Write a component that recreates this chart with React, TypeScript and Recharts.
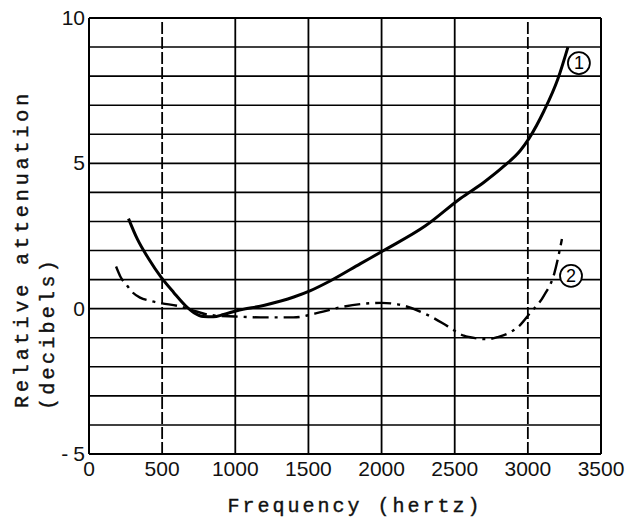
import React from 'react';
import { LineChart, Line, XAxis, YAxis, ReferenceLine, ReferenceDot } from 'recharts';

// Axis ticks and grid positions
const freqTicks = [0, 500, 1000, 1500, 2000, 2500, 3000, 3500];
const dbTicks = [-5, 0, 5, 10];
const dbGrid = [-4, -3, -2, -1, 0, 1, 2, 3, 4, 5, 6, 7, 8, 9, 10];
const freqGridSolid = [1000, 1500, 2000, 2500, 3500];
const freqGridBroken = [500, 3000];

// Curve 1 (solid)
const curve1Hz = [270, 330, 410, 490, 580, 660, 720, 780, 850, 920, 1010, 1200, 1400, 1514, 1651, 1856, 2014, 2300, 2541, 2700, 2836, 2950, 3007, 3110, 3205, 3274];
const curve1Db = [3.1, 2.4, 1.7, 1.1, 0.55, 0.1, -0.15, -0.27, -0.28, -0.2, -0.07, 0.12, 0.4, 0.62, 0.96, 1.55, 2.0, 2.85, 3.8, 4.35, 4.9, 5.45, 5.85, 6.8, 7.9, 9.0];

// Curve 2 (dash-dot)
const curve2Hz = [185, 215, 260, 294, 349, 418, 500, 603, 692, 829, 1000, 1171, 1397, 1600, 1740, 1877, 2000, 2110, 2336, 2450, 2562, 2650, 2726, 2800, 2884, 2950, 3007, 3110, 3180, 3233];
const curve2Db = [1.45, 1.1, 0.8, 0.58, 0.38, 0.27, 0.18, 0.1, -0.03, -0.22, -0.27, -0.3, -0.3, -0.1, 0.07, 0.17, 0.2, 0.15, -0.27, -0.6, -0.93, -1.02, -1.05, -0.97, -0.8, -0.55, -0.2, 0.45, 1.2, 2.4];

// Curve markers
const markerHz = [3349, 3295];
const markerDb = [8.45, 1.13];
const markerText = ['1', '2'];

const curve1 = curve1Hz.map((f, i) => ({ f, db: curve1Db[i] }));
const curve2 = curve2Hz.map((f, i) => ({ f, db: curve2Db[i] }));

const tickFont = '"Liberation Sans", Arial, sans-serif';
const labelFont = '"Liberation Mono", "DejaVu Sans Mono", monospace';

const XTick = (props: any) => {
  const { x, y, payload } = props;
  return (
    <text x={x} y={y + 22} textAnchor="middle" fontFamily={tickFont} fontSize={21} fill="#111">
      {payload.value}
    </text>
  );
};

const YTick = (props: any) => {
  const { x, y, payload } = props;
  const v = payload.value;
  if (v < 0) {
    return (
      <text x={x - 4} y={y + 7} textAnchor="end" fontFamily={tickFont} fontSize={21} fill="#111">
        <tspan>-</tspan>
        <tspan dx={5}>{Math.abs(v)}</tspan>
      </text>
    );
  }
  return (
    <text x={x - 4} y={y + 7} textAnchor="end" fontFamily={tickFont} fontSize={21} fill="#111">
      {v}
    </text>
  );
};

const titleStyle = {
  fontFamily: labelFont,
  fontSize: 20,
  fill: '#111',
  stroke: '#111',
  strokeWidth: 0.4,
};

export default function App() {
  return (
    <div style={{ position: 'absolute', left: 0, top: 0, width: 631, height: 523, background: '#fff' }}>
      <LineChart width={631} height={523} margin={{ top: 18, right: 30, bottom: 39, left: 39 }}>
        <XAxis
          dataKey="f"
          type="number"
          domain={[0, 3500]}
          ticks={freqTicks}
          allowDataOverflow
          height={30}
          tickLine={false}
          tickSize={0}
          tickMargin={0}
          axisLine={{ stroke: '#000', strokeWidth: 2 }}
          tick={<XTick />}
        />
        <YAxis
          dataKey="db"
          type="number"
          domain={[-5, 10]}
          ticks={dbTicks}
          allowDataOverflow
          width={50}
          tickLine={false}
          tickSize={0}
          tickMargin={0}
          axisLine={{ stroke: '#000', strokeWidth: 2 }}
          tick={<YTick />}
        />
        {dbGrid.map((v) => (
          <ReferenceLine key={'h' + v} y={v} stroke="#000" strokeWidth={v === 10 ? 2 : 1.6} />
        ))}
        {freqGridSolid.map((v) => (
          <ReferenceLine key={'v' + v} x={v} stroke="#000" strokeWidth={v === 3500 ? 2 : 1.8} />
        ))}
        {freqGridBroken.map((v) => (
          <ReferenceLine key={'vb' + v} x={v} stroke="#000" strokeWidth={1.8} strokeDasharray="12 3" />
        ))}
        <Line
          data={curve1}
          dataKey="db"
          type="monotone"
          stroke="#000"
          strokeWidth={3}
          dot={false}
          isAnimationActive={false}
        />
        <Line
          data={curve2}
          dataKey="db"
          type="monotone"
          stroke="#000"
          strokeWidth={2.4}
          strokeDasharray="16 6 3 6"
          dot={false}
          isAnimationActive={false}
        />
        {markerHz.map((f, i) => (
          <ReferenceDot
            key={'m' + i}
            x={f}
            y={markerDb[i]}
            r={11}
            fill="#fff"
            stroke="#000"
            strokeWidth={1.8}
            label={{ value: markerText[i], position: 'center', fontFamily: tickFont, fontSize: 18, fill: '#000' }}
          />
        ))}
        <text x={355} y={512} textAnchor="middle" letterSpacing={3} style={titleStyle}>
          Frequency (hertz)
        </text>
        <text transform="translate(28,408) rotate(-90)" textAnchor="start" letterSpacing={3.9} style={titleStyle}>
          Relative attenuation
        </text>
        <text transform="translate(54,410) rotate(-90)" textAnchor="start" letterSpacing={3.3} style={titleStyle}>
          (decibels)
        </text>
      </LineChart>
    </div>
  );
}
